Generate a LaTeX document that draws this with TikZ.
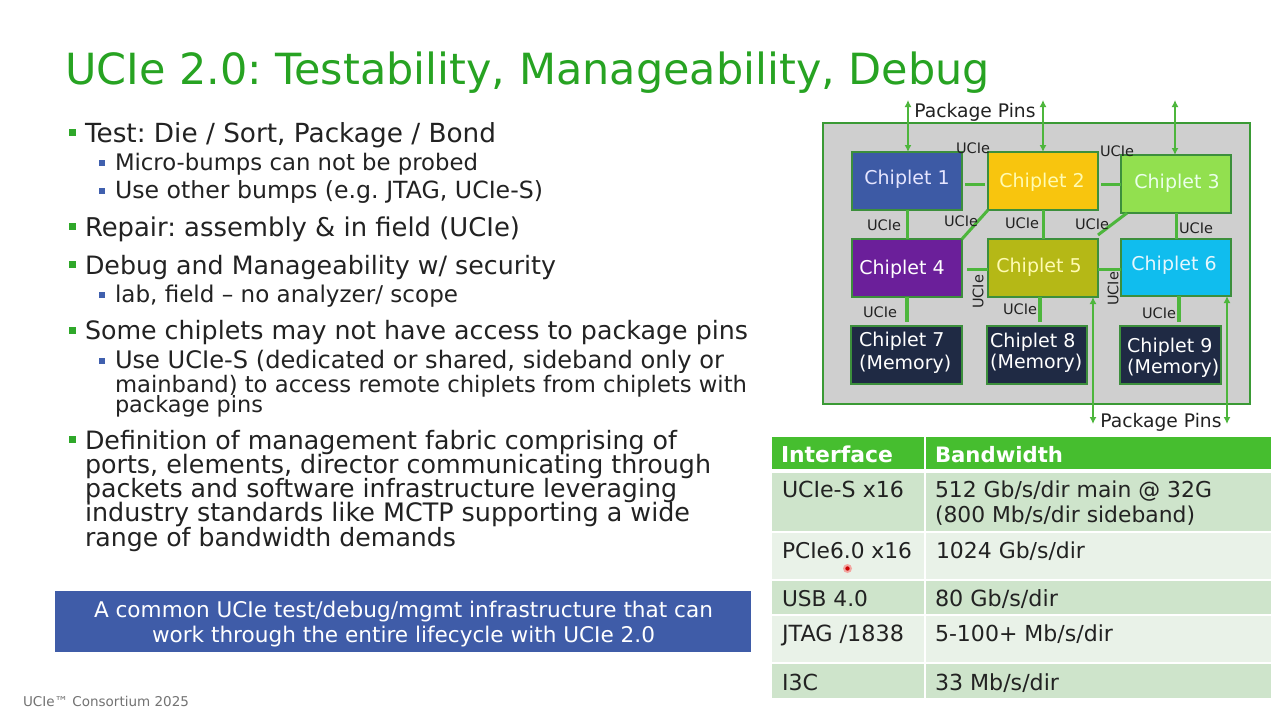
\documentclass[tikz,border=0pt]{standalone}
\usepackage{fontspec}
\usepackage{graphicx}
\setmainfont{DejaVu Sans}
\frenchspacing
\usetikzlibrary{arrows.meta,calc}
\definecolor{titlegreen}{HTML}{27A322}
\definecolor{ink}{HTML}{222222}
\definecolor{bulgreen}{HTML}{2FA82A}
\definecolor{bulblue}{HTML}{4060AE}
\definecolor{bannerblue}{HTML}{3F5CA8}
\definecolor{pkggrey}{HTML}{CFCFCF}
\definecolor{pkgedge}{HTML}{3A9A35}
\definecolor{link}{HTML}{4DB63C}
\definecolor{boxedge}{HTML}{3C8F3C}
\definecolor{hdr}{HTML}{46BE2F}
\definecolor{rowdark}{HTML}{CEE4CB}
\definecolor{rowlight}{HTML}{E9F2E8}
\definecolor{cone}{HTML}{3D5AA5}
\definecolor{ctwo}{HTML}{F8C50E}
\definecolor{cthree}{HTML}{92E04F}
\definecolor{cfour}{HTML}{6B1F9A}
\definecolor{cfive}{HTML}{B5B816}
\definecolor{csix}{HTML}{10BDEE}
\definecolor{cmem}{HTML}{1F2A44}
\newcommand{\tline}[6][ink]{\node[txt,text=#1] (#2) at (#3,#4) {\resizebox{#5pt}{!}{\fontsize{24pt}{24pt}\selectfont #6}};}
\newcommand{\bigbul}[1]{\fill[bulgreen] (69,#1-13) rectangle (76,#1-6);}
\newcommand{\subbul}[1]{\fill[bulblue] (99,#1-10) rectangle (105,#1-4.5);}
\newcommand{\chip}[6]{\node[chipbox,fill=#6,minimum width=#4*1pt-#2*1pt,minimum height=#5*1pt-#3*1pt] (#1) at ({(#2+#4)/2},{(#3+#5)/2}) {};}
\newcommand{\cell}[5]{\fill[#5] (#1,#2) rectangle (#3,#4);}
\tikzset{
  txt/.style={anchor=base west,inner sep=0pt,outer sep=0pt},
  chipbox/.style={rectangle,draw=boxedge,line width=2pt,inner sep=0pt,outer sep=0pt},
  chiptext/.style={inner sep=0pt,font=\fontsize{19pt}{22pt}\selectfont},
  ucie/.style={inner sep=0pt,text=ink,font=\fontsize{14.5pt}{16pt}\selectfont},
  pinlabel/.style={inner sep=0pt,text=ink,font=\fontsize{18.7pt}{20pt}\selectfont},
  linkline/.style={draw=link,line width=3pt},
  pinline/.style={draw=link,line width=1.4pt,{Latex[length=7pt,width=7pt]}-{Latex[length=7pt,width=7pt]}}
}
\begin{document}
\begin{tikzpicture}[x=1pt,y=-1pt]
\useasboundingbox (0,0) rectangle (1280,720);
\fill[white] (0,0) rectangle (1280,720);

% title
\tline[titlegreen]{title}{65}{84}{925}{UCIe 2.0: Testability, Manageability, Debug}

% bullets
\bigbul{142}\tline{a1}{85}{142}{411}{Test: Die / Sort, Package / Bond}
\subbul{170}\tline{a2}{115}{170}{363}{Micro-bumps can not be probed}
\subbul{198}\tline{a3}{115}{198}{428}{Use other bumps (e.g. JTAG, UCIe-S)}
\bigbul{236}\tline{a4}{85}{236}{435}{Repair: assembly \& in field (UCIe)}
\bigbul{274}\tline{a5}{85}{274}{471}{Debug and Manageability w/ security}
\subbul{302}\tline{a6}{115}{302}{343}{lab, field – no analyzer/ scope}
\bigbul{340}\tline{a7}{85}{339}{663}{Some chiplets may not have access to package pins}
\subbul{368}\tline{a8}{115}{368}{609}{Use UCIe-S (dedicated or shared, sideband only or}
\tline{a9}{115}{392}{632}{mainband) to access remote chiplets from chiplets with}
\tline{a10}{115}{412}{148}{package pins}
\bigbul{449}\tline{a11}{85}{449}{592}{Definition of management fabric comprising of}
\tline{a12}{85}{473}{626}{ports, elements, director communicating through}
\tline{a13}{85}{497}{592}{packets and software infrastructure leveraging}
\tline{a14}{85}{521}{605}{industry standards like MCTP supporting a wide}
\tline{a15}{85}{546}{371}{range of bandwidth demands}

% banner
\fill[bannerblue] (55,591) rectangle (751,652);
\tline[white]{b1}{94}{617}{619}{A common UCIe test/debug/mgmt infrastructure that can}
\tline[white]{b2}{152}{642}{503}{work through the entire lifecycle with UCIe 2.0}

% footer
\tline[black!55]{foot}{23}{706}{166}{UCIe™ Consortium 2025}

% package
\draw[draw=pkgedge,fill=pkggrey,line width=2pt] (823,123) rectangle (1250,404);

\chip{c1}{852}{152}{962}{210}{cone}
\chip{c2}{988}{152}{1098}{210}{ctwo}
\chip{c3}{1121}{155}{1231}{213}{cthree}
\chip{c4}{852}{239}{962}{297}{cfour}
\chip{c5}{988}{239}{1098}{297}{cfive}
\chip{c6}{1121}{239}{1231}{296}{csix}
\chip{c7}{851}{326}{962}{384}{cmem}
\chip{c8}{987}{326}{1087}{384}{cmem}
\chip{c9}{1120}{326}{1221}{384}{cmem}

% chiplet links
\coordinate (g12) at (965,184);
\coordinate (g21) at (985,184);
\coordinate (g23) at (1101,184);
\coordinate (g45) at (967,269);
\coordinate (g58) at (1040,322);
\coordinate (g69) at (1179,322);
\coordinate (g47) at (906.5,322);
\draw[linkline] (g12) -- (g21);
\draw[linkline] (g23) -- (c3.west |- g23);
\draw[linkline] (c1.south) -- (c4.north);
\draw[linkline] (c2.south west) -- (c4.north east);
\draw[linkline] (c2.south) -- (c5.north);
\draw[linkline] ([xshift=6pt]c3.south west) -- ([yshift=4pt]c5.north east);
\draw[linkline] (c3.south) -- (c6.north);
\draw[linkline] (g45) -- (c5.west |- g45);
\draw[linkline] (c5.east |- g45) -- (c6.west |- g45);
\draw[link,line width=4pt] (g47 |- c4.south) -- (g47);
\draw[link,line width=4pt] (g58 |- c5.south) -- (g58);
\draw[link,line width=4pt] (g69 |- c6.south) -- (g69);

% pins
\coordinate (p1) at (908,100);
\coordinate (p2) at (1043,100);
\coordinate (p3) at (1175,100);
\coordinate (p4) at (1093,424);
\coordinate (p5) at (1227,424);
\draw[pinline] (p1) -- (p1 |- c1.north);
\draw[pinline] (p2) -- (p2 |- c2.north);
\draw[pinline] (p3) -- (p3 |- c3.north);
\draw[pinline] (p4) -- (p4 |- c5.south);
\draw[pinline] (p5) -- (p5 |- c6.south);

% chiplet labels
\node[chiptext,text=blue!10] (t1) at (907,179) {Chiplet 1};
\node[chiptext,text=yellow!30] (t2) at (1042,182) {Chiplet 2};
\node[chiptext,text=green!8] (t3) at (1177,183) {Chiplet 3};
\node[chiptext,text=white] (t4) at (902,269) {Chiplet 4};
\node[chiptext,text=yellow!30] (t5) at (1039,267) {Chiplet 5};
\node[chiptext,text=cyan!10] (t6) at (1174,265) {Chiplet 6};
\node[chiptext,text=white,anchor=west] (t7) at (859,341) {Chiplet 7};
\node[chiptext,text=white,anchor=west] (t7b) at (859,364) {(Memory)};
\node[chiptext,text=white,anchor=west] (t8) at (990,342) {Chiplet 8};
\node[chiptext,text=white,anchor=west] (t8b) at (990,363) {(Memory)};
\node[chiptext,text=white,anchor=west] (t9) at (1127,347) {Chiplet 9};
\node[chiptext,text=white,anchor=west] (t9b) at (1127,368) {(Memory)};

% UCIe labels
\node[ucie] (u1) at (973,148) {UCIe};
\node[ucie] (u2) at (1117,151) {UCIe};
\node[ucie] (u3) at (884,225) {UCIe};
\node[ucie] (u4) at (961,221) {UCIe};
\node[ucie] (u5) at (1022,223) {UCIe};
\node[ucie] (u6) at (1092,224) {UCIe};
\node[ucie] (u7) at (1196,228) {UCIe};
\node[ucie,rotate=90] (u8) at (978,292) {UCIe};
\node[ucie,rotate=90] (u9) at (1113,289) {UCIe};
\node[ucie] (u10) at (880,312) {UCIe};
\node[ucie] (u11) at (1020,309) {UCIe};
\node[ucie] (u12) at (1159,313) {UCIe};

\node[pinlabel] (pp1) at (975,112) {Package Pins};
\node[pinlabel] (pp2) at (1161,422) {Package Pins};

% table
\cell{772}{437}{924}{469}{hdr}\cell{926}{437}{1271}{469}{hdr}
\cell{772}{473}{924}{531}{rowdark}\cell{926}{473}{1271}{531}{rowdark}
\cell{772}{533}{924}{579}{rowlight}\cell{926}{533}{1271}{579}{rowlight}
\cell{772}{581}{924}{614}{rowdark}\cell{926}{581}{1271}{614}{rowdark}
\cell{772}{616}{924}{662}{rowlight}\cell{926}{616}{1271}{662}{rowlight}
\cell{772}{664}{924}{698}{rowdark}\cell{926}{664}{1271}{698}{rowdark}

\tline[white]{h1}{781}{462}{112}{\bfseries Interface}
\tline[white]{h2}{935}{462}{128}{\bfseries Bandwidth}
\tline{r1a}{782}{497}{122}{UCIe-S x16}
\tline{r1b}{935}{497}{277}{512 Gb/s/dir main @ 32G}
\tline{r1c}{935}{522}{260}{(800 Mb/s/dir sideband)}
\tline{r2a}{782}{558}{130}{PCIe6.0 x16}
\tline{r2b}{936}{558}{149}{1024 Gb/s/dir}
\tline{r3a}{782}{606}{86}{USB 4.0}
\tline{r3b}{935}{606}{123}{80 Gb/s/dir}
\tline{r4a}{782}{641}{122}{JTAG /1838}
\tline{r4b}{935}{641}{178}{5-100+ Mb/s/dir}
\tline{r5a}{782}{690}{36}{I3C}
\tline{r5b}{935}{690}{124}{33 Mb/s/dir}

% pointer
\fill[red!70!white,opacity=.45] (847.5,568.5) circle (4.5);
\fill[red!80!black] (847.5,568.5) circle (2.2);
\end{tikzpicture}
\end{document}
